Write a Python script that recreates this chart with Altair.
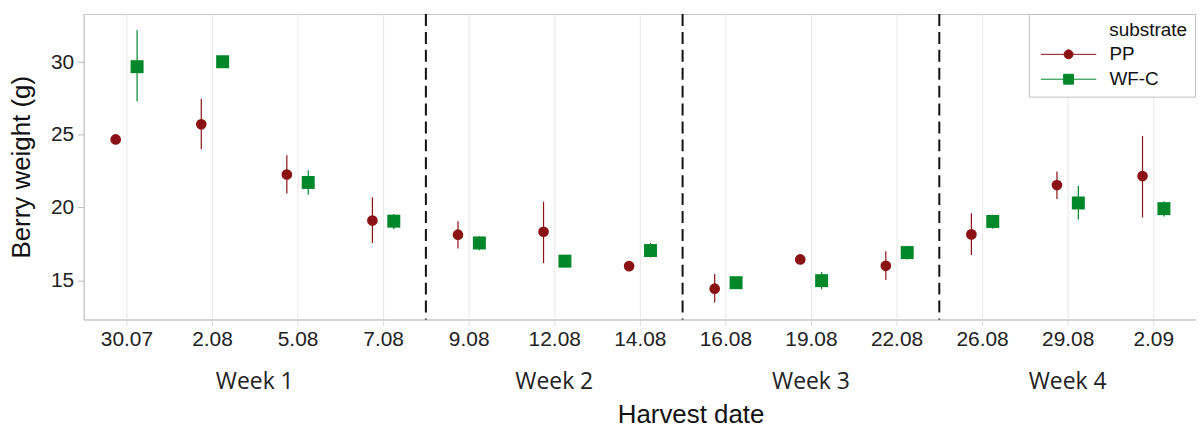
import json
import math
import altair as alt
import pandas as pd

# ---- data ----
dates = ["30.07", "2.08", "5.08", "7.08", "9.08", "12.08", "14.08",
         "16.08", "19.08", "22.08", "26.08", "29.08", "2.09"]
pp_mean = [24.68, 25.72, 22.27, 19.10, 18.13, 18.33, 15.97, 14.42, 16.43, 15.99, 18.15, 21.54, 22.16]
pp_lo = [24.55, 24.00, 20.97, 17.56, 17.18, 16.17, 15.85, 13.47, 16.30, 15.01, 16.73, 20.59, 19.31]
pp_hi = [24.80, 27.48, 23.59, 20.70, 19.06, 20.40, 16.10, 15.42, 16.55, 17.00, 19.60, 22.47, 24.92]
wf_mean = [29.68, 30.02, 21.72, 19.06, 17.56, 16.31, 17.04, 14.83, 14.97, 16.90, 19.04, 20.31, 19.92]
wf_lo = [27.29, 29.90, 20.88, 18.51, 17.06, 16.18, 16.56, 14.70, 14.38, 16.43, 18.54, 19.17, 19.38]
wf_hi = [32.18, 30.15, 22.56, 19.56, 18.02, 16.44, 17.56, 14.96, 15.56, 17.35, 19.50, 21.47, 20.42]
substrates = ["PP", "WF-C"]
colors = ["#8b1214", "#00872a"]
week_names = ["Week 1", "Week 2", "Week 3", "Week 4"]
week_centers = [1.5, 5.0, 8.0, 11.0]
week_bounds = [3.5, 6.5, 9.5]

rows = []
for i, d in enumerate(dates):
    rows.append({"idx": i, "date": d, "substrate": "PP", "mean": pp_mean[i], "lo": pp_lo[i], "hi": pp_hi[i]})
    rows.append({"idx": i, "date": d, "substrate": "WF-C", "mean": wf_mean[i], "lo": wf_lo[i], "hi": wf_hi[i]})
df = pd.DataFrame(rows)
weeks_df = pd.DataFrame({"week": week_names, "center": week_centers})
bounds_df = pd.DataFrame({"bound": week_bounds})

W, H = 1118, 307
FONT = "Liberation Sans"

xscale = alt.Scale(domain=[-0.5, 12.5], nice=False, zero=False)
yscale = alt.Scale(domain=[12.3, 33.3], nice=False, zero=False)
cscale = alt.Scale(domain=substrates, range=colors)

label_expr = json.dumps(dates) + "[datum.value]"
x_axis = alt.Axis(values=list(range(len(dates))), labelExpr=label_expr, grid=True,
                  gridColor="#e8e8e8", domainColor="#c8c8c8", tickColor="#dddddd",
                  tickSize=6, labelFontSize=21, labelColor="#222222", labelPadding=3,
                  labelFont=FONT, title="Harvest date", titleFont=FONT, titleFontSize=26,
                  titleFontWeight="normal", titleColor="#111111", titleX=610, titleY=104,
                  titleBaseline="alphabetic")
y_axis = alt.Axis(values=[15, 20, 25, 30], grid=False, domainColor="#c8c8c8",
                  tickColor="#b8b8b8", tickSize=6, labelFontSize=21, labelColor="#222222",
                  labelFont=FONT, labelPadding=4, title="Berry weight (g)", titleFont=FONT,
                  titleFontSize=26, titleFontWeight="normal", titleColor="#111111",
                  titlePadding=16)

X = lambda f: alt.X(f, scale=xscale, axis=x_axis)
Y = lambda f: alt.Y(f, scale=yscale, axis=y_axis)

base = alt.Chart(df).transform_calculate(
    pos="datum.idx + (datum.substrate == 'PP' ? -0.125 : 0.125)"
)

layers = []
marker = {"PP": ("circle", 115), "WF-C": ("square", 170)}
for sub, col in zip(substrates, colors):
    part = base.transform_filter(alt.datum.substrate == sub)
    layers.append(part.mark_rule(strokeWidth=1.2, color=col).encode(
        x=X("pos:Q"), y=Y("lo:Q"), y2="hi:Q"))
for sub, col in zip(substrates, colors):
    part = base.transform_filter(alt.datum.substrate == sub)
    shp, sz = marker[sub]
    layers.append(part.mark_point(filled=True, opacity=1, shape=shp, size=sz, color=col).encode(
        x=X("pos:Q"), y=Y("mean:Q")))

dividers = alt.Chart(bounds_df).mark_rule(strokeWidth=2, strokeDash=[12, 6], color="#111111").encode(
    x=X("bound:Q"),
)

week_text = alt.Chart(weeks_df).mark_text(font="Open Sans", fontSize=23, color="#222222",
                                          baseline="middle", align="center").encode(
    x=X("center:Q"),
    y=alt.value(H + 63),
    text="week:N",
)

# legend glyphs: a short line with the marker in its middle
cx = 5.2
poly = " L".join(f"{cx + math.cos(2 * math.pi * k / 16):.3f},{math.sin(2 * math.pi * k / 16):.3f}"
                 for k in range(16))
legend_paths = [
    f"M-1,0 L11.4,0 M{poly} Z",
    "M-1,0 L11.4,0 M4.1,-1.1 L6.3,-1.1 L6.3,1.1 L4.1,1.1 Z",
]
leg = alt.Legend(orient="none", legendX=950, legendY=0,
                 title="\u200b" + "\u00a0" * 14 + "substrate", titleFont=FONT, titleFontSize=19,
                 titleFontWeight="normal", titleColor="#111111", titlePadding=5,
                 labelFont=FONT, labelFontSize=19, labelColor="#111111", labelOffset=55,
                 symbolSize=81, symbolStrokeWidth=1, symbolOpacity=1, rowPadding=5,
                 padding=7, fillColor="white", strokeColor="#c0c0c0")
legend_layer = base.transform_filter("false").mark_point(filled=True, opacity=1).encode(
    x=X("pos:Q"), y=Y("mean:Q"),
    fill=alt.Fill("substrate:N", scale=cscale, legend=leg),
    stroke=alt.Stroke("substrate:N", scale=cscale, legend=leg),
    shape=alt.Shape("substrate:N", scale=alt.Scale(domain=substrates, range=legend_paths), legend=leg),
)

chart = alt.layer(*layers, dividers, week_text, legend_layer).properties(
    width=W, height=H, padding={"left": 0, "top": 4, "right": 0, "bottom": 0}
).configure_view(stroke="#c8c8c8", strokeWidth=1)

chart.save("out.html", embed_options={"renderer": "svg", "actions": False})
